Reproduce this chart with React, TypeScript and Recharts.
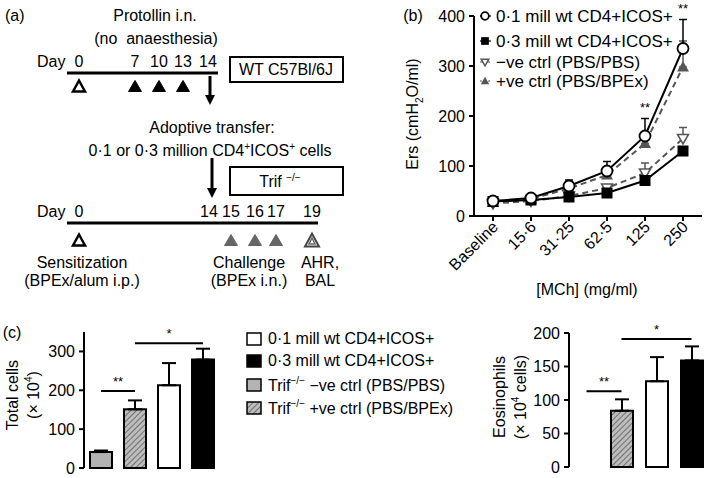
import React from "react";
import {
  Bar,
  BarChart,
  Cell,
  ErrorBar,
  Line,
  LineChart,
  ReferenceDot,
  ReferenceLine,
  XAxis,
  YAxis,
} from "recharts";

const FONT = "'Liberation Sans', Arial, Helvetica, sans-serif";

// (a) protocol timeline
const wtDays = ["0", "7", "10", "13", "14"];
const wtDayX = [79, 135, 159, 183, 208];
const trifDays = ["0", "14", "15", "16", "17", "19"];
const trifDayX = [79, 209, 231, 255, 276, 312];

// (b) respiratory elastance vs MCh dose
const doses = ["Baseline", "15·6", "31·25", "62·5", "125", "250"];
const low01 = [30, 36, 60, 90, 160, 335];
const low01Err = [3, 4, 12, 19, 35, 58];
const high03 = [29, 32, 38, 46, 71, 130];
const high03Err = [3, 3, 4, 5, 8, 8];
const negCtrl = [25, 30, 40, 56, 86, 155];
const negCtrlErr = [2, 3, 4, 5, 20, 22];
const posCtrl = [27, 34, 55, 82, 145, 298];
const posCtrlErr = [3, 4, 9, 12, 20, 52];

// (c) BAL cells
const groups = ["neg", "pos", "low", "high"];
const totalCells = [41, 151, 213, 279];
const totalCellsErr = [4, 23, 57, 28];
const eosinophils = [null, 84, 128, 159];
const eosinophilsErr = [0, 17, 36, 21];

const barFills = ["#b3b3b3", "url(#hatch)", "#fff", "#000"];

const ersData = doses.map((d, i) => ({
  dose: d,
  low: low01[i],
  lowErr: [0, low01Err[i]],
  high: high03[i],
  highErr: [0, high03Err[i]],
  neg: negCtrl[i],
  negErr: [0, negCtrlErr[i]],
  pos: posCtrl[i],
  posErr: [0, posCtrlErr[i]],
}));

const totalData = groups.map((g, i) => ({ g, v: totalCells[i], err: [0, totalCellsErr[i]] }));
const eosData = groups.map((g, i) => ({ g, v: eosinophils[i], err: [0, eosinophilsErr[i]] }));

const axisStyle = { stroke: "#000", strokeWidth: 2 };
const tickStyle = { fill: "#000", fontSize: 16, fontFamily: FONT };

const OpenCircle = ({ cx, cy, s = 1 }: any) => (
  <circle cx={cx} cy={cy} r={5.5 * s} fill="#fff" stroke="#000" strokeWidth={1.8} />
);
const FilledSquare = ({ cx, cy, s = 1 }: any) => (
  <rect x={cx - 5.5 * s} y={cy - 5.5 * s} width={11 * s} height={11 * s} fill="#000" />
);
const OpenDownTri = ({ cx, cy, s = 1 }: any) => (
  <path
    d={`M${cx - 5.5 * s},${cy - 4 * s} L${cx + 5.5 * s},${cy - 4 * s} L${cx},${cy + 5.5 * s} Z`}
    fill="#fff"
    stroke="#555"
    strokeWidth={1.5}
  />
);
const FilledUpTri = ({ cx, cy, s = 1 }: any) => (
  <path
    d={`M${cx - 6 * s},${cy + 4.5 * s} L${cx + 6 * s},${cy + 4.5 * s} L${cx},${cy - 6 * s} Z`}
    fill="#555"
  />
);

const DoseTick = ({ x, y, payload }: any) => (
  <text
    x={x + 6}
    y={y + 5}
    textAnchor="end"
    fontSize={16}
    fontFamily={FONT}
    fill="#000"
    transform={`rotate(-45 ${x + 6} ${y + 5})`}
  >
    {payload.value}
  </text>
);

function Txt({ x, y, children, size = 16, anchor = "middle", rotate = 0 }: any) {
  const tx = anchor === "middle" ? "-50%" : "0";
  return (
    <div
      style={{
        position: "absolute",
        left: x,
        top: y,
        fontSize: size,
        whiteSpace: "nowrap",
        lineHeight: 1,
        transform: `translate(${tx}, -50%) rotate(${rotate}deg)`,
      }}
    >
      {children}
    </div>
  );
}

function Tri({ x, y, fill = "none", stroke = "#000", w = 12, h = 11, sw = 2.5 }: any) {
  return (
    <path
      d={`M${x - w / 2},${y + h / 2} L${x + w / 2},${y + h / 2} L${x},${y - h / 2} Z`}
      fill={fill}
      stroke={stroke}
      strokeWidth={sw}
      strokeLinejoin="miter"
    />
  );
}

function Arrow({ x, y1, y2 }: any) {
  return (
    <g>
      <line x1={x} x2={x} y1={y1} y2={y2 - 8} stroke="#000" strokeWidth={3} />
      <path d={`M${x - 5},${y2 - 10} L${x + 5},${y2 - 10} L${x},${y2} Z`} fill="#000" />
    </g>
  );
}

function Timeline() {
  return (
    <svg
      width={380}
      height={320}
      style={{ position: "absolute", left: 0, top: 0 }}
      fontFamily={FONT}
      fontSize={16}
    >
      <text x={5} y={21}>(a)</text>
      <text x={155} y={21} textAnchor="middle">Protollin i.n.</text>
      <text x={156} y={44} textAnchor="middle">{"(no\u00A0 anaesthesia)"}</text>
      <text x={37} y={67}>Day</text>
      {wtDays.map((d, i) => (
        <text key={d} x={wtDayX[i]} y={67} textAnchor="middle">{d}</text>
      ))}
      <line x1={67} x2={218} y1={73} y2={73} stroke="#000" strokeWidth={3} />
      <Tri x={wtDayX[0]} y={86} />
      {[1, 2, 3].map((i) => (
        <Tri key={i} x={wtDayX[i]} y={86} fill="#000" stroke="#000" sw={1} w={13} />
      ))}
      <rect x={230} y={57} width={113} height={25} fill="none" stroke="#000" strokeWidth={2} />
      <text x={286} y={75} textAnchor="middle">WT C57Bl/6J</text>
      <Arrow x={210} y1={76} y2={105} />
      <text x={212} y={133} textAnchor="middle">Adoptive transfer:</text>
      <text x={210} y={156} textAnchor="middle">
        0·1 or 0·3 million CD4<tspan dy={-6} fontSize={10}>+</tspan>
        <tspan dy={6}>ICOS</tspan>
        <tspan dy={-6} fontSize={10}>+</tspan>
        <tspan dy={6}> cells</tspan>
      </text>
      <Arrow x={212} y1={158} y2={198} />
      <rect x={230} y={167} width={113} height={28} fill="none" stroke="#000" strokeWidth={2} />
      <text x={280} y={187} textAnchor="middle">
        Trif <tspan dy={-6} fontSize={10}>−/−</tspan>
      </text>
      <text x={37} y={217}>Day</text>
      {trifDays.map((d, i) => (
        <text key={d} x={trifDayX[i]} y={217} textAnchor="middle">{d}</text>
      ))}
      <line x1={67} x2={318} y1={223} y2={223} stroke="#000" strokeWidth={3} />
      <Tri x={trifDayX[0]} y={240} />
      {[2, 3, 4].map((i) => (
        <Tri key={i} x={trifDayX[i]} y={240} fill="#666" stroke="#666" sw={1} w={13} />
      ))}
      <Tri x={trifDayX[5]} y={240} stroke="#444" sw={2} w={14} h={13} />
      <Tri x={trifDayX[5]} y={241} stroke="#666" sw={1.5} w={6} h={6} />
      <text x={82} y={268} textAnchor="middle">Sensitization</text>
      <text x={82} y={286} textAnchor="middle">(BPEx/alum i.p.)</text>
      <text x={249} y={268} textAnchor="middle">Challenge</text>
      <text x={249} y={286} textAnchor="middle">(BPEx i.n.)</text>
      <text x={320} y={268} textAnchor="middle">AHR,</text>
      <text x={320} y={286} textAnchor="middle">BAL</text>
    </svg>
  );
}

const ersLegend = [
  { label: "0·1 mill wt CD4+ICOS+", Shape: OpenCircle, dash: false, y: 16 },
  { label: "0·3 mill wt CD4+ICOS+", Shape: FilledSquare, dash: false, y: 41 },
  { label: "−ve ctrl (PBS/PBS)", Shape: OpenDownTri, dash: true, y: 62 },
  { label: "+ve ctrl (PBS/BPEx)", Shape: FilledUpTri, dash: true, y: 81 },
];

function ErsPanel() {
  return (
    <>
      <div style={{ position: "absolute", left: 380, top: 0 }}>
        <LineChart
          width={329}
          height={320}
          data={ersData}
          margin={{ top: 16, right: 7, bottom: 44, left: 44 }}
        >
          <XAxis
            dataKey="dose"
            interval={0}
            height={60}
            padding={{ left: 19, right: 19 }}
            tick={<DoseTick />}
            tickLine={axisStyle}
            axisLine={axisStyle}
            tickSize={5}
          />
          <YAxis
            domain={[0, 400]}
            ticks={[0, 100, 200, 300, 400]}
            width={50}
            tick={tickStyle}
            tickLine={axisStyle}
            axisLine={axisStyle}
            tickSize={5}
            tickMargin={4}
          />
          <Line
            dataKey="pos"
            stroke="#555"
            strokeWidth={2}
            strokeDasharray="6 4"
            dot={(p: any) => <FilledUpTri key={`p${p.index}`} cx={p.cx} cy={p.cy} />}
            isAnimationActive={false}
          >
            <ErrorBar dataKey="posErr" width={4} stroke="#555" strokeWidth={1.5} direction="y" />
          </Line>
          <Line
            dataKey="neg"
            stroke="#555"
            strokeWidth={2}
            strokeDasharray="6 4"
            dot={(p: any) => <OpenDownTri key={`n${p.index}`} cx={p.cx} cy={p.cy} />}
            isAnimationActive={false}
          >
            <ErrorBar dataKey="negErr" width={4} stroke="#555" strokeWidth={1.5} direction="y" />
          </Line>
          <Line
            dataKey="high"
            stroke="#000"
            strokeWidth={2}
            dot={(p: any) => <FilledSquare key={`h${p.index}`} cx={p.cx} cy={p.cy} />}
            isAnimationActive={false}
          >
            <ErrorBar dataKey="highErr" width={4} stroke="#000" strokeWidth={1.5} direction="y" />
          </Line>
          <Line
            dataKey="low"
            stroke="#000"
            strokeWidth={2}
            dot={(p: any) => <OpenCircle key={`l${p.index}`} cx={p.cx} cy={p.cy} />}
            isAnimationActive={false}
          >
            <ErrorBar dataKey="lowErr" width={4} stroke="#000" strokeWidth={1.5} direction="y" />
          </Line>
          <ReferenceDot
            x="125"
            y={218}
            r={0}
            fill="none"
            stroke="none"
            ifOverflow="visible"
            label={{ value: "**", position: "center", fontSize: 13, fill: "#000" }}
          />
          <ReferenceDot
            x="250"
            y={415}
            r={0}
            fill="none"
            stroke="none"
            ifOverflow="visible"
            label={{ value: "**", position: "center", fontSize: 13, fill: "#000" }}
          />
        </LineChart>
      </div>
      <svg width={20} height={100} style={{ position: "absolute", left: 476, top: 0 }}>
        {ersLegend.map((l, i) => (
          <g key={i}>
            <line
              x1={4}
              x2={15}
              y1={l.y}
              y2={l.y}
              stroke={l.dash ? "#555" : "#000"}
              strokeWidth={1.2}
              strokeDasharray={l.dash ? "2 2" : undefined}
            />
            <l.Shape cx={9} cy={l.y} s={0.7} />
          </g>
        ))}
      </svg>
      {ersLegend.map((l, i) => (
        <Txt key={i} x={496} y={l.y} anchor="start" size={17}>
          {l.label}
        </Txt>
      ))}
      <Txt x={413} y={16}>(b)</Txt>
      <Txt x={415} y={114} rotate={-90}>
        Ers (cmH<sub style={{ fontSize: 10 }}>2</sub>O/ml)
      </Txt>
      <Txt x={587} y={290}>[MCh] (mg/ml)</Txt>
    </>
  );
}

const barLegend = [
  { label: <>0·1 mill wt CD4+ICOS+</>, fill: "#fff", y: 339 },
  { label: <>0·3 mill wt CD4+ICOS+</>, fill: "#000", y: 361 },
  {
    label: (
      <>
        Trif<sup style={{ fontSize: 10 }}>−/−</sup> −ve ctrl (PBS/PBS)
      </>
    ),
    fill: "#b3b3b3",
    y: 385,
  },
  {
    label: (
      <>
        Trif<sup style={{ fontSize: 10 }}>−/−</sup> +ve ctrl (PBS/BPEx)
      </>
    ),
    fill: "url(#hatch)",
    y: 408,
  },
];

function BarPanel() {
  return (
    <>
      <div style={{ position: "absolute", left: 0, top: 320 }}>
        <BarChart
          width={260}
          height={158}
          data={totalData}
          margin={{ top: 12, right: 40, bottom: 10, left: 34 }}
          barSize={22}
        >
          <XAxis dataKey="g" tick={false} tickLine={false} height={0} axisLine={axisStyle} />
          <YAxis
            domain={[0, 350]}
            ticks={[0, 100, 200, 300]}
            width={50}
            tick={tickStyle}
            tickLine={axisStyle}
            axisLine={axisStyle}
            tickSize={5}
            tickMargin={4}
          />
          <Bar dataKey="v" stroke="#000" strokeWidth={2} isAnimationActive={false}>
            {totalData.map((_, i) => (
              <Cell key={i} fill={barFills[i]} />
            ))}
            <ErrorBar dataKey="err" width={7} stroke="#000" strokeWidth={2} direction="y" />
          </Bar>
          <ReferenceLine
            segment={[{ x: "neg", y: 198 }, { x: "pos", y: 198 }]}
            stroke="#000"
            strokeWidth={2}
            label={{ value: "**", position: "top", fontSize: 13, fill: "#000" }}
          />
          <ReferenceLine
            segment={[{ x: "pos", y: 321 }, { x: "high", y: 321 }]}
            stroke="#000"
            strokeWidth={2}
            label={{ value: "*", position: "top", fontSize: 13, fill: "#000" }}
          />
        </BarChart>
      </div>
      <div style={{ position: "absolute", left: 480, top: 320 }}>
        <BarChart
          width={229}
          height={158}
          data={eosData}
          margin={{ top: 13, right: 0, bottom: 11, left: 39 }}
          barSize={22}
        >
          <XAxis dataKey="g" tick={false} tickLine={false} height={0} axisLine={axisStyle} />
          <YAxis
            domain={[0, 200]}
            ticks={[0, 50, 100, 150, 200]}
            width={50}
            tick={tickStyle}
            tickLine={axisStyle}
            axisLine={axisStyle}
            tickSize={5}
            tickMargin={4}
          />
          <Bar dataKey="v" stroke="#000" strokeWidth={2} isAnimationActive={false}>
            {eosData.map((_, i) => (
              <Cell key={i} fill={barFills[i]} />
            ))}
            <ErrorBar dataKey="err" width={7} stroke="#000" strokeWidth={2} direction="y" />
          </Bar>
          <ReferenceLine
            segment={[{ x: "neg", y: 113 }, { x: "pos", y: 113 }]}
            stroke="#000"
            strokeWidth={2}
            label={{ value: "**", position: "top", fontSize: 13, fill: "#000" }}
          />
          <ReferenceLine
            segment={[{ x: "pos", y: 191 }, { x: "high", y: 191 }]}
            stroke="#000"
            strokeWidth={2}
            label={{ value: "*", position: "top", fontSize: 13, fill: "#000" }}
          />
        </BarChart>
      </div>
      <svg width={20} height={100} style={{ position: "absolute", left: 245, top: 325 }}>
        {barLegend.map((l, i) => (
          <rect
            key={i}
            x={2}
            y={l.y - 325 - 6}
            width={14}
            height={12}
            fill={l.fill}
            stroke="#000"
            strokeWidth={1.5}
          />
        ))}
      </svg>
      {barLegend.map((l, i) => (
        <Txt key={i} x={268} y={l.y} anchor="start">
          {l.label}
        </Txt>
      ))}
      <Txt x={12} y={333}>(c)</Txt>
      <Txt x={13} y={395} rotate={-90}>Total cells</Txt>
      <Txt x={33} y={395} rotate={-90}>
        (× 10<sup style={{ fontSize: 10 }}>4</sup>)
      </Txt>
      <Txt x={500} y={397} rotate={-90}>Eosinophils</Txt>
      <Txt x={520} y={397} rotate={-90}>
        (× 10<sup style={{ fontSize: 10 }}>4</sup> cells)
      </Txt>
    </>
  );
}

export default function App() {
  return (
    <div
      style={{
        position: "absolute",
        left: 0,
        top: 0,
        width: 709,
        height: 478,
        background: "#fff",
        fontFamily: FONT,
        color: "#000",
        overflow: "hidden",
      }}
    >
      <svg width={0} height={0} style={{ position: "absolute" }}>
        <defs>
          <pattern
            id="hatch"
            patternUnits="userSpaceOnUse"
            width={4}
            height={4}
            patternTransform="rotate(45)"
          >
            <rect width={4} height={4} fill="#bdbdbd" />
            <line x1={0} y1={0} x2={0} y2={4} stroke="#555" strokeWidth={1.5} />
          </pattern>
        </defs>
      </svg>
      <Timeline />
      <ErsPanel />
      <BarPanel />
    </div>
  );
}
